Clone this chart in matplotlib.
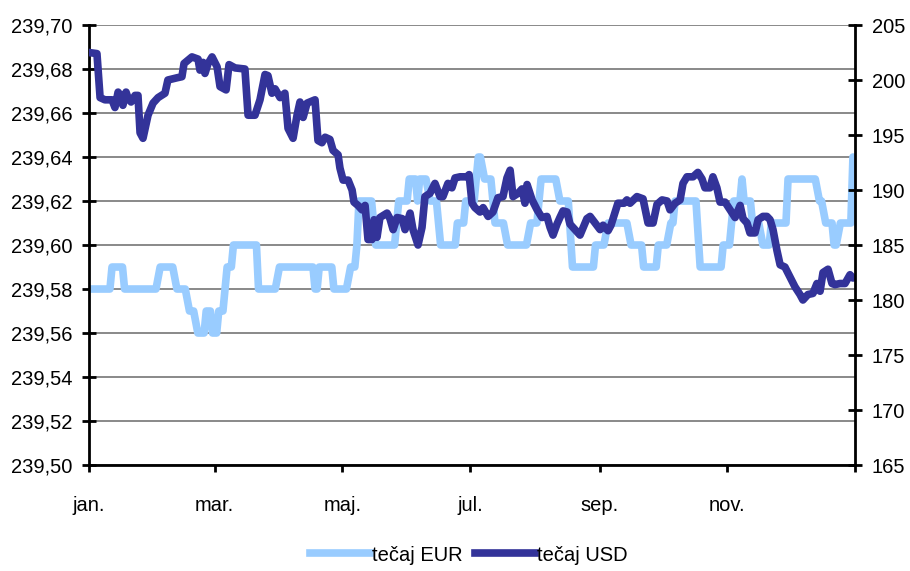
import numpy as np
import matplotlib.pyplot as plt
from matplotlib.ticker import FuncFormatter, MultipleLocator
from matplotlib.lines import Line2D

plt.rcParams['font.family'] = ['Liberation Sans', 'DejaVu Sans']

# day of year (2008) and values
eur_days = [0, 10, 11, 16, 17, 32, 34, 40, 42, 46, 48, 50, 52, 55, 56, 58, 59, 61, 62, 64,
            66, 68, 69, 80, 81, 89, 91, 107, 108, 109, 110, 116, 117, 123, 125, 127, 128, 129,
            135, 137, 146, 148, 152, 153, 156, 157, 158, 161, 163, 166, 168, 175, 176, 179,
            180, 184, 186, 187, 189, 192, 194, 198, 200, 209, 211, 214, 216, 223, 225, 229,
            231, 241, 242, 246, 248, 257, 259, 264, 265, 271, 272, 276, 278, 279, 280, 290,
            292, 302, 303, 306, 308, 311, 312, 313, 316, 317, 320, 322, 325, 326, 333, 334,
            347, 349, 350, 352, 355, 356, 357, 359, 364, 365]
eur_vals = [239.58, 239.58, 239.59, 239.59, 239.58, 239.58, 239.59, 239.59, 239.58, 239.58,
            239.57, 239.57, 239.56, 239.56, 239.57, 239.57, 239.56, 239.56, 239.57, 239.57,
            239.59, 239.59, 239.60, 239.60, 239.58, 239.58, 239.59, 239.59, 239.58, 239.58,
            239.59, 239.59, 239.58, 239.58, 239.59, 239.59, 239.60, 239.62, 239.62, 239.60,
            239.60, 239.62, 239.62, 239.63, 239.63, 239.62, 239.63, 239.63, 239.62, 239.62,
            239.60, 239.60, 239.61, 239.61, 239.62, 239.62, 239.64, 239.64, 239.63, 239.63,
            239.61, 239.61, 239.60, 239.60, 239.61, 239.61, 239.63, 239.63, 239.62, 239.62,
            239.59, 239.59, 239.60, 239.60, 239.61, 239.61, 239.60, 239.60, 239.59, 239.59,
            239.60, 239.60, 239.61, 239.61, 239.62, 239.62, 239.59, 239.59, 239.60, 239.60,
            239.62, 239.62, 239.63, 239.62, 239.62, 239.61, 239.61, 239.60, 239.60, 239.61,
            239.61, 239.63, 239.63, 239.62, 239.62, 239.61, 239.61, 239.60, 239.60, 239.61,
            239.61, 239.64]

usd_days = [0, 3.8, 5.3, 7.6, 11, 12.4, 13.9, 15.3, 16.2, 17.7, 18.6, 20.1, 22, 23.4, 24.4,
            25.8, 28.2, 30.6, 33, 36.3, 37.7, 42, 44.4, 45.4, 47.3, 49.2, 52.1, 53, 54.5,
            55.4, 56.9, 58.8, 61.2, 62.6, 65.5, 66.9, 69.8, 74.5, 76, 79.3, 81.7, 84.1, 85.5,
            87.4, 88.9, 91.3, 93.6, 95.1, 97.5, 99.4, 100.8, 102.3, 104.2, 108, 109.4, 111.3,
            112.8, 115.1, 116.6, 119, 119.9, 121.4, 123.8, 125.7, 126.6, 128.5, 130.4, 131.9,
            133.3, 135.2, 136.2, 137.6, 139, 142.4, 143.8, 145.3, 147.2, 149.6, 151, 153.4,
            154.8, 157.2, 159.1, 160.5, 162.9, 165.3, 167.7, 169.1, 171.5, 173.4, 174.9,
            177.3, 180.6, 181.6, 183, 184.4, 186.8, 188.3, 190.7, 193, 195.4, 197.8, 199.7,
            201.2, 202.6, 205, 206.9, 208.3, 209.3, 211.7, 214.1, 216.4, 218.8, 220.3, 221.7,
            223.6, 225, 226.5, 228.4, 229.8, 232.2, 234.6, 237.9, 239.4, 241.8, 244.2, 245.6,
            248, 249.4, 252.7, 255.6, 257, 258.5, 261.8, 264.7, 267.1, 269.5, 271.4, 273.8,
            276.2, 277.6, 280, 282.4, 283.8, 285.7, 288.6, 290.9, 292.9, 294.3, 296.7, 298.1,
            300, 301.5, 303.9, 306.3, 308.7, 311.1, 312.5, 314.4, 315.8, 318.2, 319.7, 322,
            323.9, 325.4, 326.8, 328.7, 330.2, 332.5, 334.9, 337.3, 339.7, 341.1, 343.5,
            345.9, 347.8, 349.3, 350.7, 353.1, 355, 356.4, 358.8, 361.2, 363.6, 365]
usd_vals = [202.5, 202.4, 198.4, 198.2, 198.2, 197.5, 198.9, 198.5, 197.7, 198.9, 198.4,
            198.0, 198.6, 198.6, 195.2, 194.7, 196.8, 197.9, 198.4, 198.8, 200.0, 200.2,
            200.3, 201.5, 201.8, 202.1, 201.9, 200.9, 201.6, 200.6, 201.5, 202.1, 201.2,
            199.4, 199.1, 201.4, 201.1, 201.0, 196.8, 196.8, 198.2, 200.5, 200.4, 198.8,
            199.2, 198.4, 198.8, 195.6, 194.7, 196.8, 198.0, 196.6, 197.9, 198.2, 194.5,
            194.3, 194.8, 194.6, 193.6, 193.2, 192.0, 190.9, 190.9, 190.0, 188.9, 188.6,
            188.2, 188.6, 185.5, 185.5, 187.3, 185.7, 187.5, 187.9, 187.4, 186.4, 187.5,
            187.4, 186.4, 187.9, 186.4, 185.0, 186.6, 189.4, 189.7, 190.6, 189.4, 189.4,
            190.6, 190.2, 191.1, 191.2, 191.2, 191.4, 188.8, 188.4, 188.0, 188.4, 187.6,
            188.0, 189.3, 189.4, 191.1, 191.8, 189.4, 189.7, 190.1, 188.8, 190.5, 189.1,
            188.2, 187.5, 187.6, 186.6, 185.9, 186.9, 187.5, 188.1, 188.0, 186.9, 186.4,
            185.9, 187.4, 187.6, 187.0, 186.4, 186.8, 186.3, 186.8, 188.8, 188.8, 189.1,
            188.8, 189.4, 189.2, 187.0, 187.0, 188.7, 189.1, 189.0, 188.2, 188.8, 189.1,
            190.6, 191.2, 191.2, 191.6, 191.0, 190.2, 190.2, 191.2, 190.2, 188.9, 188.9,
            188.2, 187.5, 188.6, 187.4, 187.0, 186.1, 186.1, 187.3, 187.6, 187.6, 187.3,
            186.4, 184.5, 183.2, 183.0, 182.1, 181.2, 180.5, 180.0, 180.5, 180.6, 181.5,
            180.8, 182.5, 182.8, 181.5, 181.4, 181.5, 181.5, 182.3, 182.0]

month_days = [0, 60, 121, 182, 244, 305, 366]
month_labels = ['jan.', 'mar.', 'maj.', 'jul.', 'sep.', 'nov.', '']

eur_color = '#99ccff'
usd_color = '#333399'

fig = plt.figure(figsize=(9.10, 5.71), dpi=100)
ax = fig.add_axes([0.0978, 0.1856, 0.8418, 0.7706])
ax2 = ax.twinx()

ax.plot(eur_days, eur_vals, color=eur_color, lw=5.5, solid_joinstyle='round', solid_capstyle='round')
ax2.plot(usd_days, usd_vals, color=usd_color, lw=5.5, solid_joinstyle='round', solid_capstyle='round')

ax.set_xlim(0, 366)
ax.set_ylim(239.50, 239.70)
ax2.set_ylim(165, 205)

ax.yaxis.set_major_locator(MultipleLocator(0.02))
ax.yaxis.set_major_formatter(FuncFormatter(lambda v, p: f"{v:.2f}".replace('.', ',')))
ax2.yaxis.set_major_locator(MultipleLocator(5))

ax.set_xticks(month_days)
ax.set_xticklabels(month_labels)

ax.grid(axis='y', color='#808080', lw=1.3)
ax.set_axisbelow(True)

for a in (ax, ax2):
    a.spines['top'].set_visible(False)
    for s in ('left', 'right', 'bottom'):
        a.spines[s].set_linewidth(2)
ax.spines['right'].set_visible(False)
ax2.spines['left'].set_visible(False)
ax2.spines['bottom'].set_visible(False)

ax.tick_params(axis='y', direction='inout', length=10, width=2, labelsize=14.5, pad=7)
ax2.tick_params(axis='y', direction='inout', length=10, width=2, labelsize=14.5, pad=7)
ax.tick_params(axis='x', direction='out', length=5, width=2, labelsize=14.5, pad=17)

handles = [Line2D([], [], color=eur_color, lw=5.5), Line2D([], [], color=usd_color, lw=5.5)]
fig.legend(handles, ['tečaj EUR', 'tečaj USD'], loc='center', bbox_to_anchor=(0.515, 0.028),
           ncol=2, frameon=False, fontsize=14.5, handlelength=3.0, handletextpad=0.1,
           columnspacing=0.6)

fig.savefig('out.png', dpi=100)
